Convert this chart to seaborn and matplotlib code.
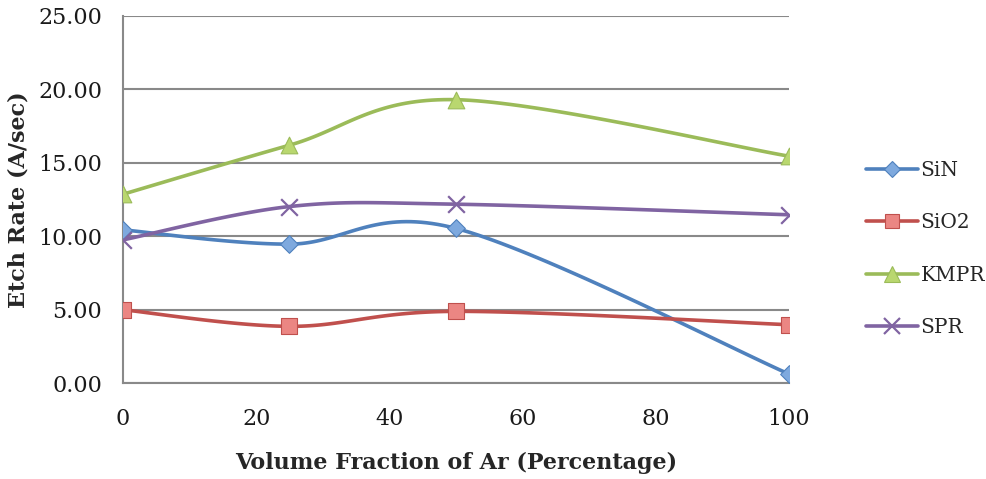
import numpy as np
import pandas as pd
import matplotlib
matplotlib.use("Agg")
import matplotlib.pyplot as plt
from matplotlib.lines import Line2D
import seaborn as sns

# data
ar_fraction = [0, 25, 50, 100]
sin_rate = [10.43, 9.46, 10.53, 0.61]
sio2_rate = [4.99, 3.86, 4.88, 3.97]
kmpr_rate = [12.86, 16.2, 19.3, 15.45]
spr_rate = [9.75, 12.02, 12.18, 11.46]
series_names = ["SiN", "SiO2", "KMPR", "SPR"]
y_ticks = [0, 5, 10, 15, 20, 25]
x_ticks = [0, 20, 40, 60, 80, 100]

# styles
line_colors = ["#4F81BD", "#C0504D", "#9BBB59", "#8064A2"]
face_colors = ["#7EA9DE", "#EB8683", "#B9D76F", "#8064A2"]
markers = ["D", "s", "^", "x"]
marker_sizes = [9, 11, 12, 12]


def smooth(xs, ys, n=40):
    # Excel style smoothed line (cubic bezier, catmull-rom control points)
    p = np.column_stack([xs, ys]).astype(float)
    p_ext = np.vstack([p[0], p, p[-1]])
    out = []
    t = np.linspace(0, 1, n)[:, None]
    for i in range(len(p) - 1):
        p0, p1, p2, p3 = p_ext[i], p_ext[i + 1], p_ext[i + 2], p_ext[i + 3]
        c1 = p1 + (p2 - p0) / 6
        c2 = p2 - (p3 - p1) / 6
        seg = ((1 - t) ** 3) * p1 + 3 * ((1 - t) ** 2) * t * c1 + 3 * (1 - t) * t ** 2 * c2 + t ** 3 * p2
        out.append(seg)
    out = np.vstack(out)
    return out[:, 0], out[:, 1]


rows = []
for name, vals in zip(series_names, [sin_rate, sio2_rate, kmpr_rate, spr_rate]):
    for x, y in zip(ar_fraction, vals):
        rows.append({"x": x, "y": y, "series": name})
df = pd.DataFrame(rows)

sns.set_style("white")
plt.rcParams["font.family"] = ["DejaVu Serif"]

fig = plt.figure(figsize=(9.87, 4.79), dpi=100)
ax = fig.add_axes([123 / 987, 1 - 383 / 479, (789 - 123) / 987, (383 - 16) / 479])

grid_col = "#898989"
for yt in y_ticks:
    ax.axhline(yt, color=grid_col, lw=1.5, zorder=0)

handles = []
for i, name in enumerate(series_names):
    sub = df[df.series == name]
    sx, sy = smooth(sub.x.values, sub.y.values)
    sns.lineplot(x=sx, y=sy, ax=ax, color=line_colors[i], lw=2.6, sort=False,
                 estimator=None, zorder=2 + i)
    if markers[i] == "x":
        sns.scatterplot(x=sub.x, y=sub.y, ax=ax, marker="x", s=marker_sizes[i] ** 2,
                        color=line_colors[i], linewidth=1.6, zorder=10 + i)
    else:
        sns.scatterplot(x=sub.x, y=sub.y, ax=ax, marker=markers[i], s=marker_sizes[i] ** 2,
                        color=face_colors[i], edgecolor=line_colors[i], linewidth=0.8,
                        zorder=10 + i)
    handles.append(Line2D([], [], color=line_colors[i], lw=2.6, marker=markers[i],
                          markersize=marker_sizes[i] * 0.95, markerfacecolor=face_colors[i],
                          markeredgecolor=line_colors[i],
                          markeredgewidth=1.6 if markers[i] == "x" else 0.8))

ax.set_xlim(0, 100)
ax.set_ylim(0, 25)
ax.set_xticks(x_ticks)
ax.set_yticks(y_ticks)
ax.set_yticklabels([f"{v:.2f}" for v in y_ticks])
ax.tick_params(axis="both", length=0, labelsize=16, colors="#1a1a1a")
ax.tick_params(axis="x", pad=18)
ax.tick_params(axis="y", pad=15)

for s in ["top", "right"]:
    ax.spines[s].set_visible(False)
for s in ["left", "bottom"]:
    ax.spines[s].set_color(grid_col)
    ax.spines[s].set_linewidth(1.5)

ax.set_xlabel("Volume Fraction of Ar (Percentage)", fontsize=16, fontweight="bold", labelpad=16)
ax.set_ylabel("Etch Rate (A/sec)", fontsize=16, fontweight="bold", labelpad=6)

fig.legend(handles, series_names, loc="center left", bbox_to_anchor=(856 / 987, 1 - 249 / 479),
           frameon=False, fontsize=14.5, handlelength=2.6, handletextpad=0.1,
           labelspacing=1.65, borderpad=0)

fig.savefig("out.png", dpi=100)
